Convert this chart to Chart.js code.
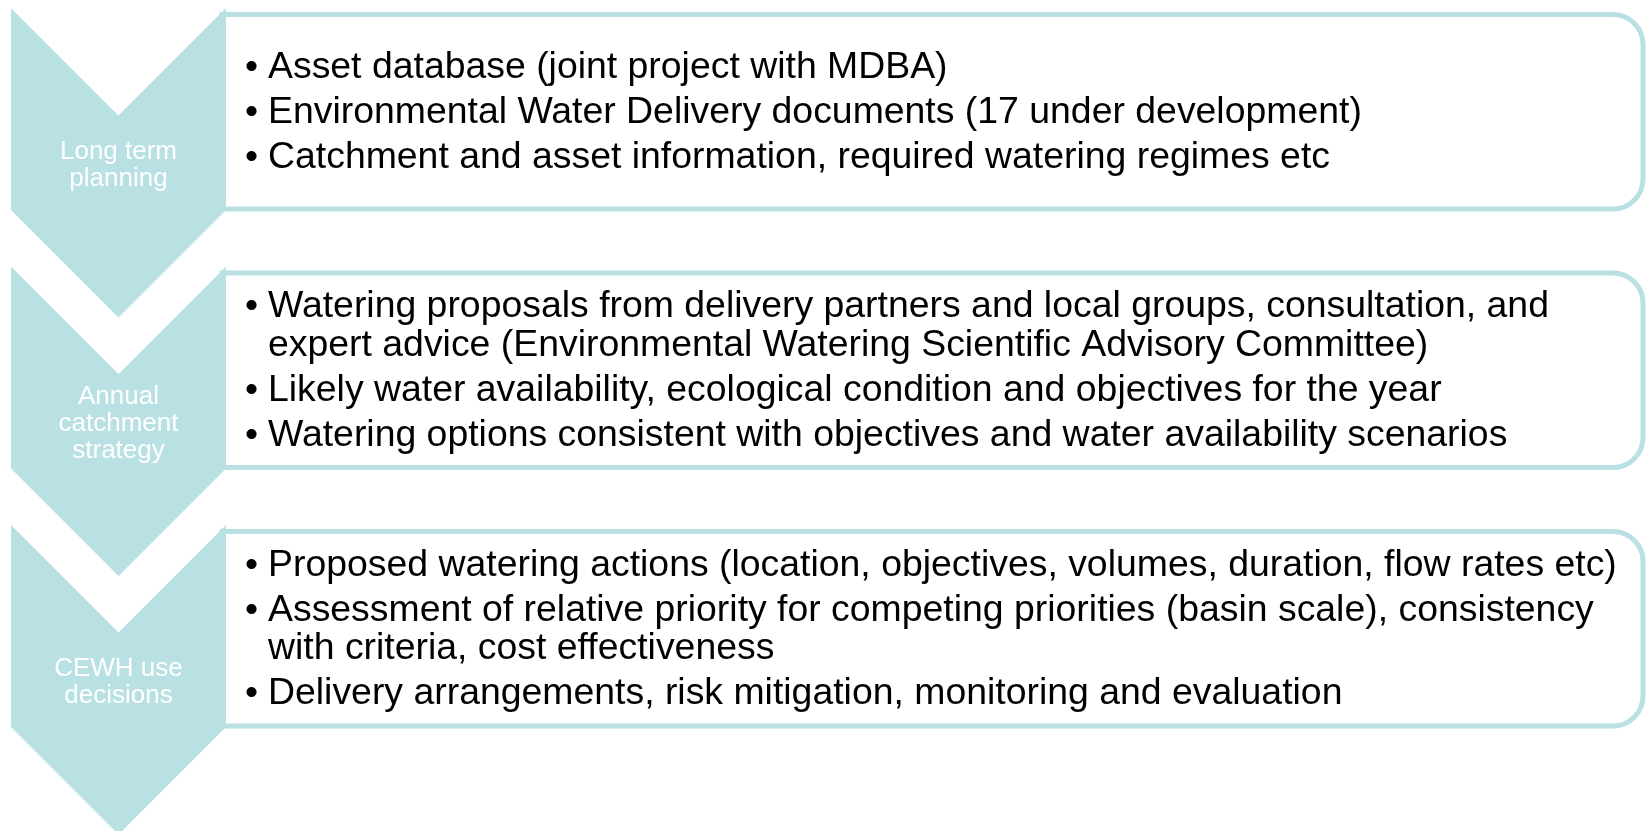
<!DOCTYPE html>
<html><head><meta charset="utf-8">
<script src="https://cdn.jsdelivr.net/npm/chart.js@4.4.1/dist/chart.umd.min.js"></script>
<style>html,body{margin:0;padding:0;background:#fff;overflow:hidden}#wrap{width:1646px;height:831px;position:relative}</style>
</head><body><div id="wrap"><canvas id="c"></canvas></div>
<script>
// ---- data ----
const stages = [
  ["Long term", "planning"],
  ["Annual", "catchment", "strategy"],
  ["CEWH use", "decisions"]
];
const bulletsLongTerm = [
  ["Asset database (joint project with MDBA)"],
  ["Environmental Water Delivery documents (17 under development)"],
  ["Catchment and asset information, required watering regimes etc"]
];
const bulletsAnnual = [
  ["Watering proposals from delivery partners and local groups, consultation, and", "expert advice (Environmental Watering Scientific Advisory Committee)"],
  ["Likely water availability, ecological condition and objectives for the year"],
  ["Watering options consistent with objectives and water availability scenarios"]
];
const bulletsDecisions = [
  ["Proposed watering actions (location, objectives, volumes, duration, flow rates etc)"],
  ["Assessment of relative priority for competing priorities (basin scale), consistency", "with criteria, cost effectiveness"],
  ["Delivery arrangements, risk mitigation, monitoring and evaluation"]
];
const bulletGroups = [bulletsLongTerm, bulletsAnnual, bulletsDecisions];

// ---- layout / style ----
const W = 1646, H = 831;
const TEAL = '#b9e0e3';
const L = {
  chevLeft: 11, chevRight: 226, top0: 8, pitch: 258.5, body: 202, depth: 107.5,
  boxLeft: 222, boxRight: 1643, boxTopOff: 6.5, boxBotOff: 201, radius: 30, border: 5,
  bulletX: 245, textX: 268, intra: 38.5, inter: 45, baseOff: 11,
  labelLH: 27, labelOff: 9.5
};
const FONT_MAIN = '37.4px "Liberation Sans", Arial, sans-serif';
const FONT_LABEL = '26px "Liberation Sans", Arial, sans-serif';

const diagramPlugin = {
  id: 'diagram',
  afterDraw(chart) {
    const ctx = chart.ctx, xs = chart.scales.x, ys = chart.scales.y;
    const px = v => xs.getPixelForValue(v), py = v => ys.getPixelForValue(v);
    ctx.save();
    stages.forEach((label, i) => {
      const t = L.top0 + i * L.pitch;
      // box
      const bt = t + L.boxTopOff, bb = t + L.boxBotOff;
      const x0 = px(L.boxLeft), x1 = px(L.boxRight), y0 = py(bt), y1 = py(bb);
      ctx.beginPath();
      ctx.roundRect(x0, y0, x1 - x0, y1 - y0, [0, L.radius, L.radius, 0]);
      ctx.fillStyle = '#ffffff'; ctx.fill();
      ctx.lineWidth = L.border; ctx.strokeStyle = TEAL; ctx.stroke();
      // chevron
      const mid = (L.chevLeft + L.chevRight) / 2;
      const pts = [[L.chevLeft, t], [mid, t + L.depth], [L.chevRight, t], [L.chevRight, t + L.body],
                   [mid, t + L.body + L.depth], [L.chevLeft, t + L.body]];
      ctx.beginPath();
      pts.forEach((p, k) => k ? ctx.lineTo(px(p[0]), py(p[1])) : ctx.moveTo(px(p[0]), py(p[1])));
      ctx.closePath(); ctx.fillStyle = TEAL; ctx.fill();
      // chevron label
      ctx.fillStyle = '#ffffff'; ctx.font = FONT_LABEL; ctx.textAlign = 'center'; ctx.textBaseline = 'alphabetic';
      const cMid = t + (L.body + L.depth) / 2;
      label.forEach((ln, k) => {
        const by = cMid + (k - (label.length - 1) / 2) * L.labelLH + L.labelOff;
        ctx.fillText(ln, px(mid), py(by));
      });
      // bullets
      const group = bulletGroups[i];
      const offs = []; let cur = 0;
      group.forEach((para) => {
        para.forEach((ln, li) => {
          if (offs.length) cur += (li === 0 ? L.inter : L.intra);
          offs.push({ln, first: li === 0, y: cur});
        });
      });
      const span = cur, bc = (bt + bb) / 2;
      ctx.fillStyle = '#000000'; ctx.font = FONT_MAIN; ctx.textAlign = 'left';
      offs.forEach(o => {
        const by = bc - span / 2 + o.y + L.baseOff;
        if (o.first) ctx.fillText('\u2022', px(L.bulletX), py(by));
        ctx.fillText(o.ln, px(L.textX), py(by));
      });
    });
    ctx.restore();
  }
};

new Chart(document.getElementById('c'), {
  type: 'scatter',
  data: { datasets: [{ data: [], pointRadius: 0 }] },
  options: {
    responsive: true, maintainAspectRatio: false, animation: false,
    layout: { padding: 0 },
    plugins: { legend: { display: false }, tooltip: { enabled: false } },
    scales: {
      x: { type: 'linear', min: 0, max: W, display: false },
      y: { type: 'linear', min: 0, max: H, reverse: true, display: false }
    }
  },
  plugins: [diagramPlugin]
});
</script></body></html>
